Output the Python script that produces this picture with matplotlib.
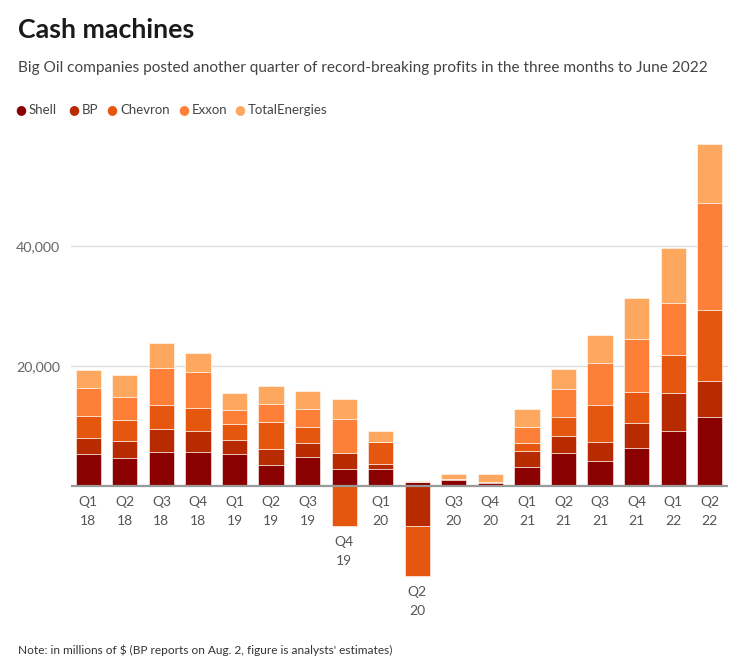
import numpy as np
import matplotlib.pyplot as plt

plt.rcParams["font.family"] = ["Lato", "DejaVu Sans"]

# Quarterly profits, millions of $
quarters = ["Q1", "Q2", "Q3", "Q4", "Q1", "Q2", "Q3", "Q4", "Q1",
            "Q2", "Q3", "Q4", "Q1", "Q2", "Q3", "Q4", "Q1", "Q2"]
years = ["18", "18", "18", "18", "19", "19", "19", "19", "20",
         "20", "20", "20", "21", "21", "21", "21", "22", "22"]

shell = [5280, 4570, 5620, 5620, 5280, 3400, 4730, 2780, 2780,
         640, 950, 500, 3110, 5500, 4110, 6280, 9110, 11500]
bp = [2670, 2930, 3780, 3550, 2330, 2770, 2330, 2670, 890,
      -6680, 90, 120, 2670, 2780, 3220, 4170, 6330, 6000]
chevron = [3670, 3400, 4100, 3780, 2670, 4450, 2670, -6670, 3560,
           -8330, 0, 0, 1280, 3220, 6170, 5110, 6280, 11730]
exxon = [4670, 3830, 6170, 6000, 2330, 3000, 3050, 5670, 0,
         0, 0, 0, 2770, 4670, 6890, 8830, 8770, 17890]
total = [2950, 3670, 4170, 3110, 2780, 3000, 3050, 3280, 1890,
         130, 830, 1280, 2950, 3330, 4670, 6830, 9110, 9780]

companies = ["Shell", "BP", "Chevron", "Exxon", "TotalEnergies"]
series = [shell, bp, chevron, exxon, total]
colors = ["#8b0000", "#b82a00", "#e5560f", "#fe7f38", "#fea75e"]

fig = plt.figure(figsize=(7.36, 6.59), dpi=100)
ax = fig.add_axes([71 / 736, 1 - 580 / 659, 657 / 736, 440 / 659])

x = np.arange(len(quarters))
pos_bottom = np.zeros(len(x))
neg_bottom = np.zeros(len(x))
for vals, col, name in zip(series, colors, companies):
    v = np.array(vals, dtype=float)
    bottom = np.where(v >= 0, pos_bottom, neg_bottom)
    ax.bar(x, v, 0.69, bottom=bottom, color=col, edgecolor="#ffffff",
           linewidth=0.4, label=name, zorder=2)
    pos_bottom += np.where(v >= 0, v, 0)
    neg_bottom += np.where(v < 0, v, 0)

ax.set_xlim(-0.473, 17.5)
ax.set_ylim(-15717, 57617)

for s in ax.spines.values():
    s.set_visible(False)
ax.set_xticks([])
ax.set_yticks([20000, 40000])
ax.set_yticklabels(["20,000", "40,000"], color="#666666", fontsize=10.3)
ax.tick_params(axis="y", length=0, pad=8)
ax.grid(axis="y", color="#dddddd", linewidth=1, zorder=0)
ax.axhline(0, color="#999999", linewidth=1.6, zorder=3)

# quarter labels sit under the lowest point of each bar
for xi, q, yr, low in zip(x, quarters, years, neg_bottom):
    ax.annotate(q, (xi, low), xytext=(0, -16), textcoords="offset pixels",
                ha="center", va="center", fontsize=10, color="#555555",
                annotation_clip=False)
    ax.annotate(yr, (xi, low), xytext=(0, -35), textcoords="offset pixels",
                ha="center", va="center", fontsize=10, color="#555555",
                annotation_clip=False)

fig.text(18 / 736, 1 - 30 / 659, "Cash machines", fontsize=19.3,
         fontweight="bold", color="#1a1a1a", va="center")
fig.text(18 / 736, 1 - 68 / 659,
         "Big Oil companies posted another quarter of record-breaking profits in the three months to June 2022",
         fontsize=11.05, color="#444444", va="center")

# legend row
leg_x = [21, 74, 112, 184, 240]
for lx, name, col in zip(leg_x, companies, colors):
    fig.text(lx / 736, 1 - 110 / 659, "\u25cf", color=col, fontsize=9,
             ha="center", va="center", family="DejaVu Sans")
    fig.text((lx + 8) / 736, 1 - 110 / 659, name, color="#444444",
             fontsize=9.5, va="center")

fig.text(18 / 736, 1 - 650 / 659,
         "Note: in millions of $ (BP reports on Aug. 2, figure is analysts' estimates)",
         fontsize=8.6, color="#333333", va="center")

fig.savefig("out.png", dpi=100)
